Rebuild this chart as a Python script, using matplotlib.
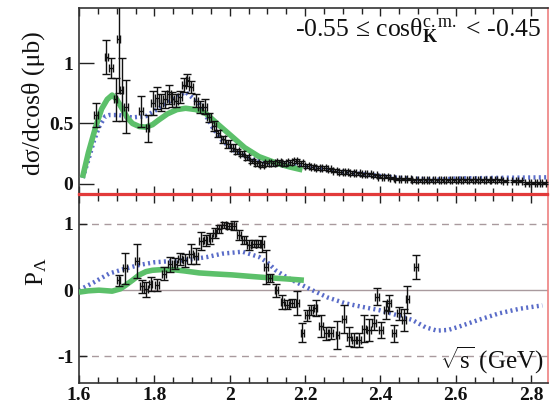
import matplotlib
matplotlib.use("Agg")
import matplotlib.pyplot as plt
from matplotlib.ticker import MultipleLocator, FixedLocator
import numpy as np

plt.rcParams['font.family'] = ['Liberation Serif', 'DejaVu Serif']
plt.rcParams['mathtext.fontset'] = 'custom'
plt.rcParams['mathtext.rm'] = 'Liberation Serif'
plt.rcParams['mathtext.bf'] = 'Liberation Serif:bold'
plt.rcParams['mathtext.it'] = 'Liberation Serif:italic'

# ---------------- top panel: differential cross section ----------------
xs_W = [1.645, 1.673, 1.685, 1.697, 1.705, 1.713, 1.725, 1.765, 1.782, 1.797,
        1.808, 1.818, 1.828, 1.838, 1.848, 1.858, 1.868, 1.878, 1.888, 1.898,
        1.910, 1.922, 1.934, 1.946, 1.958, 1.970, 1.982, 1.995, 2.008, 2.020,
        2.033, 2.046, 2.060, 2.073, 2.086, 2.100, 2.115, 2.130, 2.145, 2.160,
        2.175, 2.190, 2.205, 2.220, 2.235, 2.250, 2.265, 2.280, 2.295, 2.310,
        2.325, 2.340, 2.355, 2.370, 2.385, 2.400, 2.415, 2.430, 2.445, 2.460,
        2.475, 2.490, 2.505, 2.520, 2.535, 2.550, 2.565, 2.580, 2.595, 2.610,
        2.625, 2.640, 2.655, 2.670, 2.685, 2.700, 2.715, 2.730, 2.755, 2.770,
        2.790, 2.805, 2.820, 2.835]
xs_val = [0.57, 1.05, 0.96, 0.70, 1.20, 0.78, 0.64, 0.60, 0.46, 0.67,
          0.71, 0.67, 0.70, 0.74, 0.70, 0.69, 0.72, 0.82, 0.86, 0.80,
          0.69, 0.64, 0.64, 0.55, 0.48, 0.42, 0.37, 0.33, 0.30, 0.27,
          0.25, 0.22, 0.19, 0.17, 0.16, 0.17, 0.17, 0.18, 0.17, 0.18,
          0.19, 0.17, 0.15, 0.14, 0.13, 0.13, 0.12, 0.11, 0.10, 0.10,
          0.09, 0.09, 0.08, 0.08, 0.07, 0.06, 0.06, 0.05, 0.04, 0.04,
          0.04, 0.03, 0.03, 0.03, 0.03, 0.03, 0.03, 0.03, 0.03, 0.03,
          0.03, 0.03, 0.03, 0.03, 0.03, 0.03, 0.03, 0.025, 0.025, 0.025,
          0.01, 0.01, 0.01, 0.01]
xs_err = [0.10, 0.14, 0.08, 0.18, 0.45, 0.26, 0.22, 0.13, 0.11, 0.10,
          0.09, 0.07, 0.07, 0.08, 0.06, 0.05, 0.05, 0.06, 0.05, 0.05,
          0.05, 0.05, 0.06, 0.04, 0.04, 0.03, 0.03, 0.03, 0.03, 0.02,
          0.02, 0.02, 0.02, 0.02, 0.02, 0.02, 0.02, 0.02, 0.02, 0.02,
          0.02, 0.02, 0.015, 0.015, 0.015, 0.015, 0.015, 0.015, 0.015, 0.015,
          0.015, 0.012, 0.012, 0.012, 0.012, 0.012, 0.01, 0.01, 0.01, 0.01,
          0.01, 0.01, 0.01, 0.01, 0.01, 0.01, 0.01, 0.01, 0.01, 0.01,
          0.01, 0.01, 0.01, 0.01, 0.01, 0.01, 0.01, 0.01, 0.01, 0.01,
          0.01, 0.01, 0.01, 0.01]

xs_blue_W = [1.610, 1.622, 1.640, 1.653, 1.670, 1.680, 1.706, 1.740, 1.777, 1.820,
             1.857, 1.883, 1.918, 1.954, 1.980, 2.010, 2.060, 2.114, 2.200, 2.300,
             2.370, 2.450, 2.547, 2.600, 2.700, 2.845]
xs_blue = [0.05, 0.17, 0.36, 0.47, 0.56, 0.57, 0.57, 0.55, 0.56, 0.64,
           0.72, 0.76, 0.67, 0.47, 0.36, 0.28, 0.20, 0.17, 0.14, 0.10,
           0.075, 0.05, 0.035, 0.045, 0.05, 0.055]

xs_green_W = [1.609, 1.625, 1.644, 1.660, 1.675, 1.688, 1.700, 1.715, 1.730, 1.742,
              1.760, 1.777, 1.795, 1.812, 1.835, 1.860, 1.883, 1.910, 1.936, 1.970,
              2.007, 2.040, 2.078, 2.126, 2.160, 2.193]
xs_green = [0.05, 0.26, 0.47, 0.62, 0.70, 0.735, 0.70, 0.62, 0.54, 0.50,
            0.475, 0.47, 0.49, 0.53, 0.58, 0.615, 0.626, 0.615, 0.585, 0.49,
            0.39, 0.30, 0.226, 0.17, 0.14, 0.116]

# ---------------- bottom panel: polarization ----------------
pol_W = [1.705, 1.723, 1.754, 1.767, 1.778, 1.790, 1.807, 1.826, 1.842, 1.856,
         1.869, 1.882, 1.897, 1.910, 1.923, 1.936, 1.949, 1.960, 1.972, 1.985,
         1.998, 2.011, 2.025, 2.038, 2.051, 2.064, 2.075, 2.087, 2.096, 2.107,
         2.124, 2.140, 2.153, 2.166, 2.180, 2.193, 2.206, 2.216, 2.228, 2.242,
         2.255, 2.268, 2.286, 2.303, 2.317, 2.330, 2.343, 2.357, 2.370, 2.383,
         2.392, 2.402, 2.414, 2.423, 2.436, 2.450, 2.462, 2.472, 2.494]
pol_val = [0.15, 0.33, 0.44, 0.06, 0.01, 0.09, 0.08, 0.25, 0.39, 0.40,
           0.47, 0.45, 0.55, 0.52, 0.74, 0.75, 0.78, 0.86, 0.92, 0.98,
           0.97, 0.97, 0.83, 0.75, 0.68, 0.70, 0.70, 0.70, 0.35, 0.19,
           0.00, -0.18, -0.22, -0.20, -0.20, -0.64, -0.38, -0.30, -0.27, -0.54,
           -0.65, -0.65, -0.67, -0.44, -0.70, -0.75, -0.75, -0.58, -0.60, -0.49,
           -0.10, -0.60, -0.30, -0.20, -0.65, -0.35, -0.45, -0.14, 0.35]
pol_err = [0.08, 0.23, 0.25, 0.10, 0.11, 0.11, 0.09, 0.10, 0.11, 0.08,
           0.09, 0.10, 0.15, 0.12, 0.14, 0.08, 0.08, 0.08, 0.06, 0.05,
           0.05, 0.07, 0.08, 0.06, 0.07, 0.05, 0.05, 0.12, 0.25, 0.06,
           0.10, 0.10, 0.07, 0.06, 0.18, 0.14, 0.08, 0.08, 0.12, 0.16,
           0.10, 0.09, 0.21, 0.21, 0.14, 0.11, 0.11, 0.20, 0.17, 0.11,
           0.13, 0.12, 0.13, 0.12, 0.13, 0.10, 0.16, 0.21, 0.18]

pol_blue_W = [1.600, 1.640, 1.680, 1.720, 1.760, 1.800, 1.848, 1.892, 1.940, 1.980,
              2.034, 2.078, 2.100, 2.122, 2.150, 2.175, 2.219, 2.260, 2.308, 2.350,
              2.396, 2.440, 2.485, 2.520, 2.550, 2.580, 2.609, 2.660, 2.715, 2.770,
              2.830]
pol_blue = [0.00, 0.12, 0.25, 0.32, 0.38, 0.42, 0.44, 0.46, 0.50, 0.55,
            0.58, 0.50, 0.42, 0.30, 0.20, 0.125, 0.00, -0.11, -0.20, -0.25,
            -0.30, -0.37, -0.45, -0.56, -0.61, -0.60, -0.55, -0.45, -0.35, -0.28,
            -0.23]

pol_green_W = [1.600, 1.625, 1.653, 1.688, 1.710, 1.724, 1.742, 1.760, 1.778, 1.795,
               1.820, 1.848, 1.880, 1.919, 1.960, 2.007, 2.050, 2.096, 2.150, 2.197]
pol_green = [-0.03, -0.01, 0.00, -0.015, 0.02, 0.075, 0.15, 0.23, 0.28, 0.30,
             0.31, 0.31, 0.29, 0.26, 0.245, 0.23, 0.21, 0.19, 0.17, 0.15]

x_ticks = [1.6, 1.8, 2.0, 2.2, 2.4, 2.6, 2.8]
x_ticklabels = ["1.6", "1.8", "2", "2.2", "2.4", "2.6", "2.8"]
top_yticks = [0, 0.5, 1]
top_yticklabels = ["0", "0.5", "1"]
bot_yticks = [-1, 0, 1]
bot_yticklabels = ["-1", "0", "1"]

W, H = 555, 404
fig = plt.figure(figsize=(W / 100, H / 100), dpi=100)

def fx(px):
    return px / W

def fy(py):
    return 1 - py / H

L, R = 79, 548
ax1 = fig.add_axes([fx(L), fy(194), fx(R - L), (194 - 8) / H])
ax2 = fig.add_axes([fx(L), fy(383), fx(R - L), (383 - 195) / H])

GREEN = '#5cc06a'
BLUE = '#5a6cc8'
RED = '#e23a3a'
FS = 14

for ax in (ax1, ax2):
    ax.set_xlim(1.6, 2.845)
    ax.xaxis.set_major_locator(FixedLocator(x_ticks))
    ax.xaxis.set_minor_locator(MultipleLocator(0.05))
    ax.tick_params(axis='x', which='both', direction='in', top=True, bottom=True,
                   width=1.0, color='#222222')
    ax.tick_params(axis='x', which='major', length=6)
    ax.tick_params(axis='x', which='minor', length=4)
    ax.tick_params(axis='y', which='both', direction='in', left=True, right=False,
                   width=1.0, color='#222222', labelsize=FS, pad=4)
    for s in ('left', 'top', 'bottom'):
        ax.spines[s].set_color('#333333')
        ax.spines[s].set_linewidth(1.2)
    ax.spines['right'].set_color('#ee8080')
    ax.spines['right'].set_linewidth(1.2)

# top panel
ax1.set_ylim(-0.083, 1.455)
ax1.yaxis.set_major_locator(FixedLocator(top_yticks))
ax1.set_yticklabels(top_yticklabels)
ax1.tick_params(axis='y', which='major', length=11)
ax1.tick_params(axis='x', labelbottom=False)
ax1.spines['bottom'].set_color(RED)
ax1.spines['bottom'].set_linewidth(1.6)

ax1.plot(xs_blue_W, xs_blue, color=BLUE, lw=3.2, linestyle=(0, (0.45, 0.75)),
         dash_capstyle='butt', zorder=2)
ax1.plot(xs_green_W, xs_green, color=GREEN, lw=4.0, solid_capstyle='butt', zorder=3)
ax1.errorbar(xs_W, xs_val, yerr=xs_err, xerr=0.005, fmt='none', ecolor='#111111',
             elinewidth=1.0, capsize=2.6, capthick=1.0, zorder=4)

ax1.text(0.985, 0.955,
         "-0.55 \u2264 cos\u03b8$^{\\mathrm{c.m.}}_{\\mathbf{K}}$ < -0.45",
         transform=ax1.transAxes, ha='right', va='top', fontsize=18.5, color='#111111')

# bottom panel
ax2.set_ylim(-1.40, 1.435)
ax2.yaxis.set_major_locator(FixedLocator(bot_yticks))
ax2.set_yticklabels(bot_yticklabels)
ax2.tick_params(axis='y', which='major', length=6)
ax2.set_xticklabels(x_ticklabels)
ax2.tick_params(axis='x', labelsize=FS, pad=3)
ax2.spines['top'].set_color(RED)
ax2.spines['top'].set_linewidth(1.6)

for yv in (1, -1):
    ax2.axhline(yv, color='#a99a9e', lw=1.0, ls=(0, (5, 4)), zorder=1)
ax2.axhline(0, color='#a99a9e', lw=1.0, zorder=1)

ax2.plot(pol_blue_W, pol_blue, color=BLUE, lw=3.2, linestyle=(0, (0.45, 0.75)),
         dash_capstyle='butt', zorder=2)
ax2.plot(pol_green_W, pol_green, color=GREEN, lw=4.0, solid_capstyle='butt', zorder=3)
ax2.errorbar(pol_W, pol_val, yerr=pol_err, xerr=0.005, fmt='none', ecolor='#111111',
             elinewidth=1.0, capsize=2.6, capthick=1.0, zorder=4)

ax2.text(0.99, 0.035, r"$\sqrt{\mathrm{s}}$ (GeV)", transform=ax2.transAxes, ha='right',
         va='bottom', fontsize=18, color='#111111')

for lab in ax1.get_yticklabels() + ax2.get_yticklabels() + ax2.get_xticklabels():
    lab.set_fontweight('bold')
    lab.set_color('#111111')

fig.text(fx(33), fy(103), "d\u03c3/dcos\u03b8 (\u03bcb)", rotation=90,
         ha='center', va='center', fontsize=18.5, color='#111111')
fig.text(fx(37), fy(272), "P$_{\\Lambda}$", rotation=90, ha='center', va='center',
         fontsize=18, color='#111111')

fig.savefig("out.png", dpi=100)
